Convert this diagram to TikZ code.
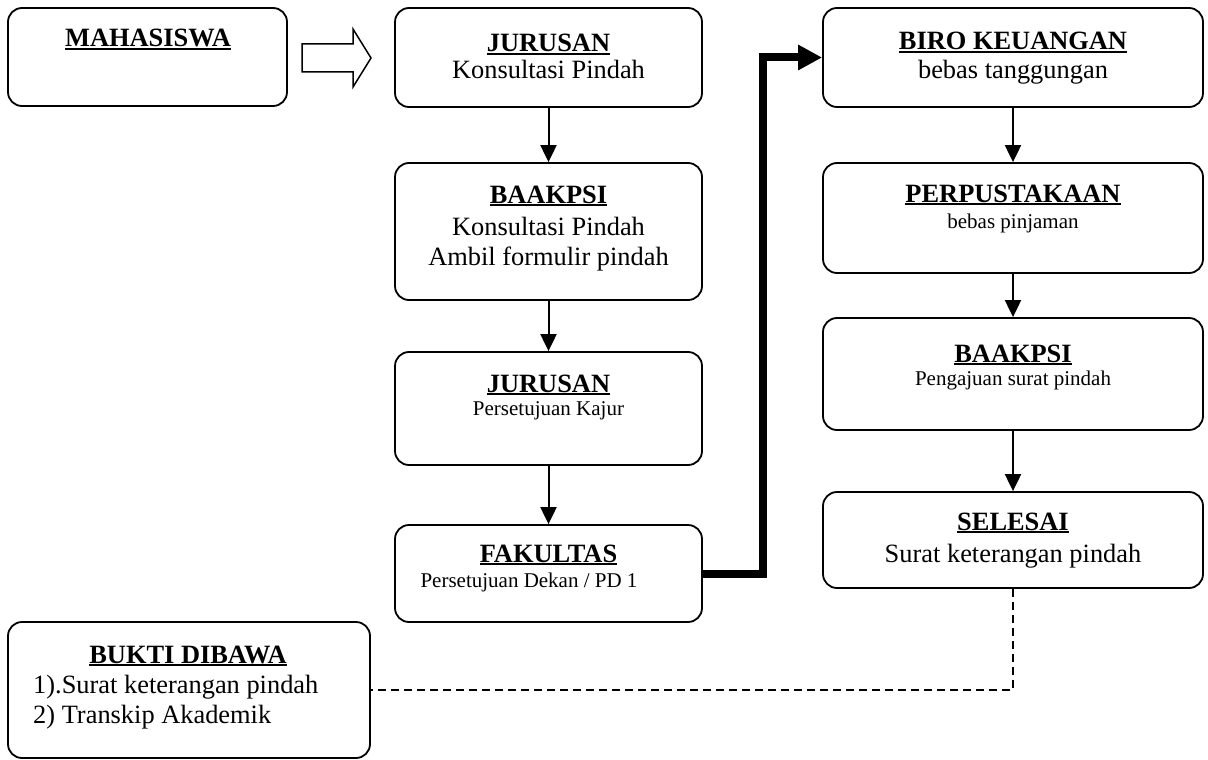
\documentclass[tikz,border=0pt]{standalone}
\usepackage{fontspec}
\setmainfont{Liberation Serif}
\usetikzlibrary{arrows.meta}
% bold heading with a heavy underline
\newcommand\hdline[1]{\textbf{\setbox0=\hbox{#1}\rlap{\rule[-2.6pt]{\wd0}{2pt}}\box0}}
\begin{document}
\begin{tikzpicture}[x=1pt,y=-1pt,
  box/.style={draw, line width=1.8pt, rounded corners=14pt, inner sep=0pt},
  colA/.style={box, minimum width=307pt},
  colB/.style={box, minimum width=380pt},
  big/.style={font=\fontsize{26.4}{30}\selectfont, inner sep=0pt, anchor=base},
  small/.style={font=\fontsize{21}{24}\selectfont, inner sep=0pt, anchor=base},
  flow/.style={line width=2pt, -{Triangle[length=17pt,width=16pt]}},
  bigflow/.style={line width=8pt, -{Triangle[length=24pt,width=24pt]}},
  note/.style={line width=1.7pt, dash pattern=on 8pt off 5pt}]
\useasboundingbox (0,0) rectangle (1208,760);

% boxes
\node[box, minimum width=279pt, minimum height=98pt] (mhs) at (147.5,57) {};
\node[colA, minimum height=99pt]  (jur1)  at (548.5,57.5) {};
\node[colA, minimum height=137pt] (baak1) at (548.5,231.5) {};
\node[colA, minimum height=113pt] (jur2)  at (548.5,408.5) {};
\node[colA, minimum height=97pt]  (fak)   at (548.5,573.5) {};
\node[colB, minimum height=99pt]  (biro)  at (1013,57.5) {};
\node[colB, minimum height=110pt] (perp)  at (1013,218) {};
\node[colB, minimum height=112pt] (baak2) at (1013,374) {};
\node[colB, minimum height=96pt]  (sel)   at (1013,540) {};
\node[box, minimum width=362pt, minimum height=136pt] (bukti) at (189,690) {};

% texts
\node[big] (mhsT) at (148,47) {\hdline{MAHASISWA}};

\node[big] (jur1T) at (548.5,52) {\hdline{JURUSAN}};
\node[big] (jur1S) at (548.5,78) {Konsultasi Pindah};

\node[big] (baak1T) at (548.5,203) {\hdline{BAAKPSI}};
\node[big] (baak1S) at (548.5,235) {Konsultasi Pindah};
\node[big] (baak1U) at (548.5,265) {Ambil formulir pindah};

\node[big] (jur2T) at (548.5,392) {\hdline{JURUSAN}};
\node[small] (jur2S) at (548.5,415) {Persetujuan Kajur};

\node[big] (fakT) at (548.5,562) {\hdline{FAKULTAS}};
\node[small] (fakS) at (529,587) {Persetujuan Dekan / PD 1};

\node[big] (biroT) at (1013,50) {\hdline{BIRO KEUANGAN}};
\node[big] (biroS) at (1013,78) {bebas tanggungan};

\node[big] (perpT) at (1013,202) {\hdline{PERPUSTAKAAN}};
\node[small] (perpS) at (1013,228) {bebas pinjaman};

\node[big] (baak2T) at (1013,362) {\hdline{BAAKPSI}};
\node[small] (baak2S) at (1013,385) {Pengajuan surat pindah};

\node[big] (selT) at (1013,530) {\hdline{SELESAI}};
\node[big] (selS) at (1013,562) {Surat keterangan pindah};

\node[big] (buktiT) at (188,663) {\hdline{BUKTI DIBAWA}};
\node[big, anchor=base west] (bukti1) at (33,693) {1).Surat keterangan pindah};
\node[big, anchor=base west] (bukti2) at (33,723) {2) Transkip Akademik};

% outline block arrow between the first two boxes
\draw[line width=1.5pt] (302,44) -- (353,44) -- (353,29) -- (371,58)
  -- (353,87) -- (353,72) -- (302,72) -- cycle;

% flow connectors
\draw[flow] (jur1) -- (baak1);
\draw[flow] (baak1) -- (jur2);
\draw[flow] (jur2) -- (fak);
\draw[bigflow] (fak.east) -- ++(60,0) |- (biro.west);
\draw[flow] (biro) -- (perp);
\draw[flow] (perp) -- (baak2);
\draw[flow] (baak2) -- (sel);
\draw[note] (sel.south) |- (bukti.east);
\end{tikzpicture}
\end{document}
